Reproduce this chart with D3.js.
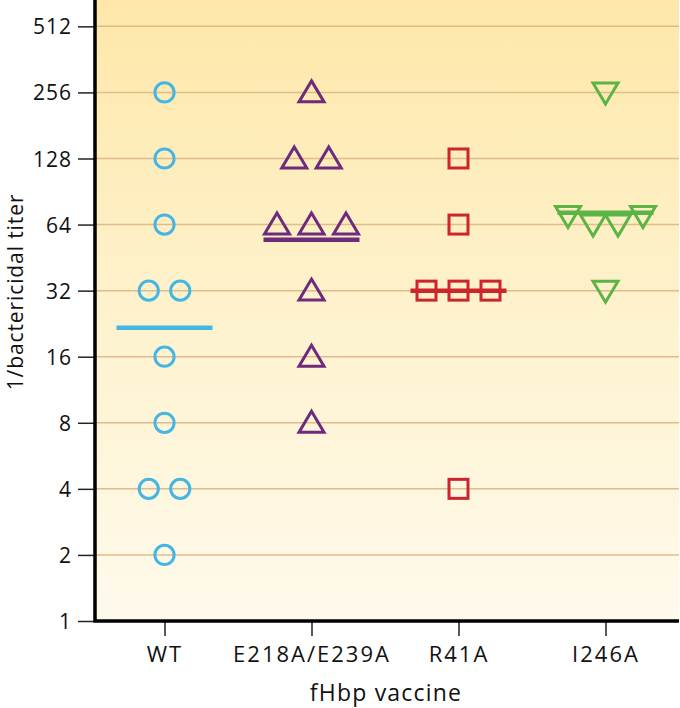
<!DOCTYPE html>
<html><head><meta charset="utf-8">
<script src="https://cdn.jsdelivr.net/npm/d3@7"></script>
<style>body{margin:0;background:#fff}svg{display:block}text{font-family:"Open Sans","Noto Sans",sans-serif;fill:#111}</style>
</head><body><svg id="c" width="680" height="708"></svg>
<script>
const groups = ["WT", "E218A/E239A", "R41A", "I246A"];
const yTicks = [1, 2, 4, 8, 16, 32, 64, 128, 256, 512];
// values and horizontal slot (offset index within group row)
const wtValues   = [256, 128, 64, 32, 32, 16, 8, 4, 4, 2];
const wtSlots    = [0, 0, 0, -0.5, 0.5, 0, 0, -0.5, 0.5, 0];
const e218Values = [256, 128, 128, 64, 64, 64, 32, 16, 8];
const e218Slots  = [0, -0.5, 0.5, -1, 0, 1, 0, 0, 0];
const r41Values  = [128, 64, 32, 32, 32, 4];
const r41Slots   = [0, 0, -1, 0, 1, 0];
const i246Values = [256, 70, 64, 64, 70, 32];
const i246Slots  = [0, -1.5, -0.5, 0.5, 1.5, 0];
const groupMeans = [21.7, 54.6, 32, 72.5];
const colors = ["#45b6e3", "#6e2a7c", "#cc252b", "#5db446"];
const shapes = ["circle", "triangleUp", "square", "triangleDown"];

const mLeft = 95, mRight = 679, mTop = 0, mBottom = 621;
const svg = d3.select("#c");
const defs = svg.append("defs");
const grad = defs.append("linearGradient").attr("id","bg").attr("x1",0).attr("y1",0).attr("x2",0).attr("y2",1);
grad.append("stop").attr("offset","0%").attr("stop-color","#fee7a8");
grad.append("stop").attr("offset","50%").attr("stop-color","#fef2cd");
grad.append("stop").attr("offset","100%").attr("stop-color","#fefaec");

const x = d3.scalePoint().domain(groups).range([91, 679]).padding(0.5);
const y = d3.scaleLog().base(2).domain([1, 675]).range([mBottom, mTop]);

svg.append("rect").attr("x", mLeft).attr("y", mTop).attr("width", mRight - mLeft).attr("height", mBottom - mTop).attr("fill", "url(#bg)");

// gridlines
svg.append("g").selectAll("line").data(yTicks.filter(d => d > 1)).join("line")
  .attr("x1", mLeft).attr("x2", mRight).attr("y1", d => y(d)).attr("y2", d => y(d))
  .attr("stroke", "#e0bb8c").attr("stroke-width", 1.5);

// axes
const yAxis = svg.append("g").attr("transform", `translate(${mLeft},0)`)
  .call(d3.axisLeft(y).tickValues(yTicks).tickFormat(d3.format("d")).tickSize(17).tickPadding(6));
yAxis.select(".domain").remove();
yAxis.selectAll(".tick line").attr("stroke", "#222").attr("stroke-width", 1.5);
yAxis.selectAll(".tick text").attr("font-size", 21).attr("letter-spacing", 1).attr("fill", "#111")
  .attr("font-family", "'Open Sans', sans-serif").attr("dy", "0.36em");

const xAxis = svg.append("g").attr("transform", `translate(0,${mBottom})`)
  .call(d3.axisBottom(x).tickSize(15).tickPadding(10));
xAxis.select(".domain").remove();
xAxis.selectAll(".tick line").attr("stroke", "#222").attr("stroke-width", 1.5);
xAxis.selectAll(".tick text").attr("font-size", 22).attr("letter-spacing", 2).attr("fill", "#111")
  .attr("font-family", "'Open Sans', sans-serif").attr("dy", "0.72em");

svg.append("path").attr("d", `M${mLeft},${mTop}V${mBottom}H${mRight}`).attr("fill", "none").attr("stroke", "#000").attr("stroke-width", 3.5);

// titles
svg.append("text").attr("x", 386).attr("y", 701).attr("text-anchor", "middle").attr("font-size", 23)
  .attr("letter-spacing", 1.2).text("fHbp vaccine");
svg.append("text").attr("transform", "translate(23,292) rotate(-90)").attr("text-anchor", "middle").attr("font-size", 21)
  .attr("letter-spacing", 0.9).text("1/bactericidal titer");

const sets = [
  [wtValues, wtSlots], [e218Values, e218Slots], [r41Values, r41Slots], [i246Values, i246Slots]
];

function drawMarker(g, shape, cx, cy, color) {
  if (shape === "circle") {
    g.append("circle").attr("cx", cx).attr("cy", cy).attr("r", 9.6)
      .attr("fill", "none").attr("stroke", color).attr("stroke-width", 3);
  } else if (shape === "square") {
    g.append("rect").attr("x", cx - 9.5).attr("y", cy - 9.5).attr("width", 19).attr("height", 19)
      .attr("fill", "none").attr("stroke", color).attr("stroke-width", 3);
  } else if (shape === "triangleUp") {
    const s = 25, h = 21;
    g.append("path").attr("d", `M${cx},${cy - h * 0.55}L${cx + s / 2},${cy + h * 0.45}L${cx - s / 2},${cy + h * 0.45}Z`)
      .attr("fill", "none").attr("stroke", color).attr("stroke-width", 3).attr("stroke-linejoin", "miter");
  } else {
    const s = 25, h = 21;
    g.append("path").attr("d", `M${cx},${cy + h * 0.55}L${cx + s / 2},${cy - h * 0.45}L${cx - s / 2},${cy - h * 0.45}Z`)
      .attr("fill", "none").attr("stroke", color).attr("stroke-width", 3).attr("stroke-linejoin", "miter");
  }
}

groups.forEach((gname, i) => {
  const g = svg.append("g");
  const [vals, slots] = sets[i];
  const cx0 = x(gname);
  g.append("line")
    .attr("x1", cx0 - 48).attr("x2", cx0 + 48)
    .attr("y1", y(groupMeans[i])).attr("y2", y(groupMeans[i]))
    .attr("stroke", colors[i]).attr("stroke-width", 4.5);
  vals.forEach((v, j) => {
    const sw = i === 3 ? 25 : (i === 2 ? 32 : (i === 1 ? 34.5 : 31.5));
    drawMarker(g, shapes[i], cx0 + slots[j] * sw, y(v), colors[i]);
  });
});
</script></body></html>
